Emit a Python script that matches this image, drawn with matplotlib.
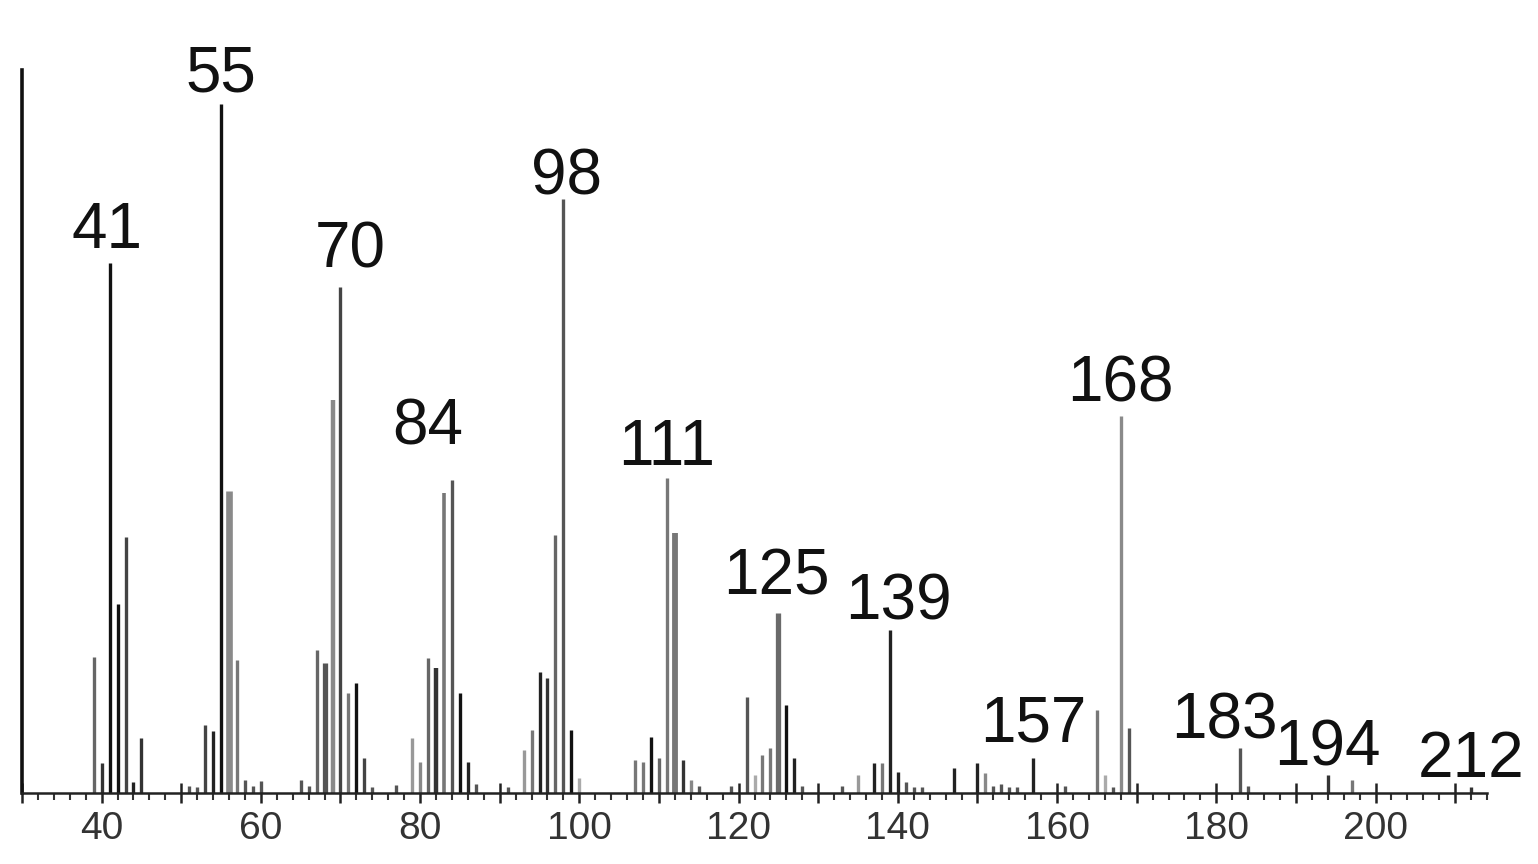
import matplotlib
matplotlib.use("Agg")
import matplotlib.pyplot as plt
from matplotlib.ticker import MultipleLocator, FuncFormatter

# ---------------- data ----------------
mz = [39, 40, 41, 42, 43, 44, 45, 51, 52,
      53, 54, 55, 56, 57, 58, 59, 60, 65, 66,
      67, 68, 69, 70, 71, 72, 73, 74, 77,
      79, 80, 81, 82, 83, 84, 85, 86, 87, 91,
      93, 94, 95, 96, 97, 98, 99, 100,
      107, 108, 109, 110, 111, 112, 113, 114, 115, 119,
      121, 122, 123, 124, 125, 126, 127, 128, 133,
      135, 137, 138, 139, 140, 141, 142, 143,
      147, 150, 151, 152, 153, 154, 155, 157, 161,
      165, 166, 167, 168, 169, 183, 184, 194, 197, 212]
intensity = [19.8, 4.4, 77.0, 27.5, 37.2, 1.6, 8.0, 1.0, 0.8,
             9.9, 9.0, 100.0, 43.8, 19.3, 1.9, 1.0, 1.7, 1.9, 1.0,
             20.8, 18.9, 57.1, 73.5, 14.5, 16.0, 5.1, 0.8, 1.2,
             8.0, 4.5, 19.6, 18.2, 43.6, 45.5, 14.5, 4.5, 1.3, 0.9,
             6.3, 9.2, 17.6, 16.7, 37.5, 86.2, 9.2, 2.2,
             4.8, 4.5, 8.1, 5.1, 45.8, 37.8, 4.8, 1.9, 1.0, 1.0,
             14.0, 2.6, 5.5, 6.5, 26.2, 12.8, 5.1, 1.0, 1.0,
             2.6, 4.4, 4.4, 23.7, 3.0, 1.6, 0.9, 0.9,
             3.6, 4.4, 2.9, 1.0, 1.3, 0.9, 0.9, 5.1, 1.0,
             12.1, 2.6, 0.9, 54.7, 9.4, 6.5, 1.0, 2.6, 1.9, 0.9]
label_mz = [41, 55, 70, 84, 98, 111, 125, 139, 157, 168, 183, 194, 212]
tick_values = [40, 60, 80, 100, 120, 140, 160, 180, 200]

# ---------------- styles ----------------
bar_colors = {
    39: "#666666", 40: "#333333", 41: "#111111", 42: "#111111", 43: "#444444",
    44: "#222222", 45: "#333333",
    53: "#444444", 54: "#222222", 55: "#111111", 56: "#8a8a8a", 57: "#777777",
    67: "#666666", 68: "#555555", 69: "#8a8a8a", 70: "#444444", 71: "#777777",
    72: "#111111", 73: "#444444",
    79: "#999999", 80: "#888888", 81: "#666666", 82: "#333333", 83: "#777777",
    84: "#555555", 85: "#111111", 86: "#222222",
    93: "#999999", 94: "#777777", 95: "#222222", 96: "#333333", 97: "#666666",
    98: "#555555", 99: "#111111", 100: "#aaaaaa",
    107: "#777777", 108: "#777777", 109: "#111111", 110: "#666666",
    111: "#777777", 112: "#777777", 113: "#333333", 114: "#888888",
    121: "#555555", 122: "#aaaaaa", 123: "#777777", 124: "#777777",
    125: "#6a6a6a", 126: "#111111", 127: "#222222",
    135: "#999999", 137: "#222222", 138: "#777777", 139: "#222222", 140: "#222222",
    147: "#222222", 150: "#222222", 151: "#888888", 157: "#222222",
    165: "#777777", 166: "#aaaaaa", 168: "#8a8a8a", 169: "#555555",
    183: "#555555", 194: "#333333", 197: "#777777", 212: "#333333",
}
wide = {56: 4.8, 112: 4.2, 125: 3.8, 68: 3.8, 69: 3.2, 82: 3.2, 83: 2.6}
label_offsets = {  # pixel offsets (dx, dy) of label baseline centre from peak top
    41: (-3, 15), 55: (0, 13), 70: (10, 19), 84: (-24, 35), 98: (3, 5),
    111: (0, 13), 125: (-2, 18), 139: (9, 10), 157: (0, 16), 168: (0, 15),
    183: (-16, 10), 194: (0, 10), 212: (0, 10),
}

FONT = ["Liberation Sans", "DejaVu Sans"]
plt.rcParams["font.family"] = FONT

fig = plt.figure(figsize=(15.38, 8.64), dpi=100)
ax = fig.add_axes([22 / 1538, (864 - 793) / 864, 1465 / 1538, 723 / 864])

for m, v in zip(mz, intensity):
    ax.vlines(m, 0, v, colors=bar_colors.get(m, "#555555"),
              linewidth=wide.get(m, 2.4), zorder=2)

height = dict(zip(mz, intensity))
for m in label_mz:
    dx, dy = label_offsets[m]
    ax.annotate(str(m), xy=(m, height[m]), xytext=(dx, dy),
                textcoords="offset pixels", ha="center", va="baseline",
                fontsize=46, color="#111111", family=FONT)

ax.set_xlim(30, 214)
ax.set_ylim(0, 105)

for s in ("top", "right"):
    ax.spines[s].set_visible(False)
ax.spines["left"].set_linewidth(2.6)
ax.spines["left"].set_color("#111111")
ax.spines["bottom"].set_linewidth(1.8)
ax.spines["bottom"].set_color("#222222")

ax.set_yticks([])
ax.xaxis.set_major_locator(MultipleLocator(10))
ax.xaxis.set_minor_locator(MultipleLocator(2))
ax.xaxis.set_major_formatter(
    FuncFormatter(lambda x, p: f"{int(round(x))}" if int(round(x)) in tick_values else ""))
ax.tick_params(axis="x", which="major", direction="inout", length=14, width=1.8,
               color="#222222", labelsize=28, labelcolor="#333333", pad=6)
ax.tick_params(axis="x", which="minor", direction="out", length=5, width=1.5,
               color="#333333")

fig.savefig("out.png", dpi=100)
